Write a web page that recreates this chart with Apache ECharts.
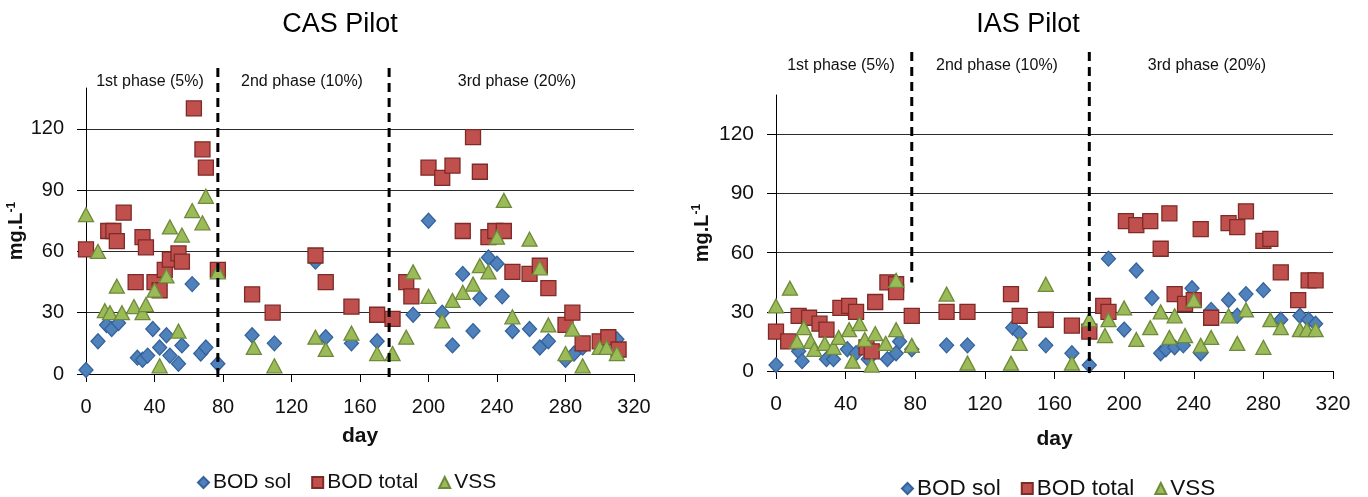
<!DOCTYPE html>
<html>
<head>
<meta charset="utf-8">
<script src="https://cdn.jsdelivr.net/npm/echarts@6/dist/echarts.min.js"></script>
<style>
html,body{margin:0;padding:0;background:#fff;}
#chart{width:1368px;height:497px;}
</style>
</head>
<body>
<div id="chart"></div>
<script>
// ---- Data: [day, mg/L] ----
const xTicks = [0, 40, 80, 120, 160, 200, 240, 280, 320];
const yTicks = [0, 30, 60, 90, 120];
const seriesNames = ['BOD sol', 'BOD total', 'VSS'];

const casBodSol = [[0,2],[7,16],[12,24],[15,22],[19,25],[30,8],[33,7],[36,9],[39,22],[43,13],[47,19],[49,9],[54,5],[56,14],[62,44],[67,10],[70,13],[77,5],[97,19],[110,15],[134,55],[140,18],[155,15],[170,16],[191,29],[200,75],[208,30],[214,14],[220,49],[226,21],[230,37],[235,57],[240,54],[243,38],[249,21],[259,22],[265,13],[270,16],[280,7],[285,10],[290,13],[310,17]];
const casBodTotal = [[0,61],[13,70],[16,70],[18,65],[22,79],[29,45],[33,67],[35,62],[40,45],[43,41],[46,51],[49,56],[54,59],[56,55],[63,130],[68,110],[70,101],[77,51],[97,39],[109,30],[134,58],[140,45],[155,33],[170,29],[179,27],[187,45],[190,38],[200,101],[208,96],[214,102],[220,70],[226,116],[230,99],[235,67],[239,70],[244,70],[249,50],[259,49],[265,53],[270,42],[280,24],[284,30],[290,15],[300,16],[305,18],[311,12]];
const casVss = [[0,78],[7,60],[11,31],[14,30],[18,43],[21,30],[28,33],[33,30],[35,34],[40,41],[43,4],[47,48],[49,72],[54,21],[56,68],[62,80],[68,74],[70,87],[77,50],[98,13],[110,4],[134,18],[140,12],[155,20],[170,10],[179,10],[187,18],[191,50],[200,38],[208,26],[214,36],[220,40],[226,44],[230,53],[235,50],[240,67],[244,85],[249,28],[259,66],[265,52],[270,24],[280,10],[284,22],[290,4],[300,13],[304,13],[310,10]];

const iasBodSol = [[0,3],[13,10],[15,5],[29,6],[33,6],[41,11],[46,9],[53,6],[64,6],[69,9],[71,15],[78,11],[98,13],[110,13],[136,22],[140,19],[155,13],[170,9],[180,3],[191,57],[200,21],[207,51],[216,37],[221,9],[224,11],[229,12],[234,13],[239,42],[244,9],[250,31],[260,36],[265,28],[270,39],[280,41],[290,26],[301,28],[306,26],[310,24]];
const iasBodTotal = [[0,20],[7,15],[13,28],[19,27],[25,24],[29,21],[37,32],[42,33],[46,30],[52,12],[55,10],[57,35],[64,45],[69,44],[69,40],[78,28],[98,30],[110,30],[135,39],[140,28],[155,26],[170,23],[180,20],[188,33],[191,30],[201,76],[207,74],[215,76],[221,62],[226,80],[229,39],[235,34],[240,36],[244,72],[250,27],[260,75],[265,73],[270,81],[280,66],[284,67],[290,50],[300,36],[306,46],[310,46]];
const iasVss = [[0,33],[8,42],[12,15],[16,22],[20,15],[22,11],[28,14],[33,12],[36,17],[42,21],[44,5],[48,24],[51,16],[55,3],[57,19],[63,14],[69,21],[69,46],[78,13],[98,39],[110,4],[135,4],[140,14],[155,44],[170,4],[180,26],[189,18],[191,26],[200,32],[207,16],[215,22],[221,30],[226,17],[229,28],[235,18],[240,36],[244,13],[250,17],[260,28],[265,14],[270,31],[280,12],[284,26],[290,22],[301,21],[305,21],[310,21]];

// phase boundaries (day) and the lowest value each dashed line reaches
const casPhaseDays = [77, 177];
const casPhaseBottom = [-2, -2];
const iasPhaseDays = [78, 180];
const iasPhaseBottom = [45, -1];
const phaseLabels = ['1st phase (5%)', '2nd phase (10%)', '3rd phase (20%)'];

// ---- Chart ----
const FONT = 'Liberation Sans, Arial, sans-serif';
const COLORS = {
  'BOD sol':   {fill:'#4F81BD', border:'#35629A', symbol:'diamond', size:[14,15]},
  'BOD total': {fill:'#C0504D', border:'#7E2A27', symbol:'rect',    size:[15,15]},
  'VSS':       {fill:'#9BBB59', border:'#6E8A3A', symbol:'triangle',size:[15,14]}
};

function scatter(name, data, gi) {
  const c = COLORS[name];
  return {
    type:'scatter', name, data, xAxisIndex:gi, yAxisIndex:gi,
    symbol:c.symbol, symbolSize:c.size,
    itemStyle:{color:c.fill, borderColor:c.border, borderWidth:1.3, opacity:1},
    emphasis:{disabled:true}
  };
}
function phaseLines(days, bottoms, top, gi) {
  return days.map((d,i)=>({
    type:'line', xAxisIndex:gi, yAxisIndex:gi, silent:true,
    data:[[d, top],[d, bottoms[i]]], symbol:'none',
    lineStyle:{color:'#000', width:3, type:[9,6]}
  }));
}
function xAxisMain(gi, fs, margin, nameGap) {
  return {
    type:'value', gridIndex:gi, min:xTicks[0], max:xTicks[xTicks.length-1], interval:xTicks[1]-xTicks[0],
    axisLine:{show:true, lineStyle:{color:'#000', width:1}},
    axisTick:{show:true, inside:false, length:8, lineStyle:{color:'#000'}},
    axisLabel:{fontSize:fs, color:'#111', fontFamily:FONT, margin:margin},
    splitLine:{show:false},
    name:'day', nameLocation:'middle', nameGap:nameGap,
    nameTextStyle:{fontSize:21, fontWeight:'bold', color:'#111', fontFamily:FONT}
  };
}
function yAxisMain(gi, fs, nameGap) {
  const gridColor = '#2b2b2b';
  return {
    type:'value', gridIndex:gi, min:0, max:140, interval:30,
    axisLine:{show:true, lineStyle:{color:'#000', width:1}},
    axisTick:{show:true, inside:false, length:9, customValues:yTicks, lineStyle:{color:'#000'}},
    axisLabel:{fontSize:fs, color:'#111', fontFamily:FONT, margin:22, customValues:yTicks,
               formatter:v=> yTicks.indexOf(v)>=0 ? String(v) : ''},
    splitLine:{show:true, lineStyle:{width:1.2, color:[gridColor,gridColor,gridColor,gridColor,gridColor,'rgba(0,0,0,0)']}},
    name:'{a|mg.L}{b|-1}', nameLocation:'middle', nameGap:nameGap,
    nameTextStyle:{rich:{
      a:{fontSize:20, fontWeight:'bold', color:'#111', fontFamily:FONT},
      b:{fontSize:12, fontWeight:'bold', color:'#111', fontFamily:FONT, padding:[0,0,10,0]}
    }}
  };
}
function hiddenX(gi){ return {type:'value', gridIndex:gi, min:xTicks[0], max:xTicks[xTicks.length-1], show:false}; }
function hiddenY(gi,min,max){ return {type:'value', gridIndex:gi, min, max, show:false}; }

const chart = echarts.init(document.getElementById('chart'), null, {renderer:'canvas'});

function legendFor(left, top, fs) {
  return {
    left, top, itemGap:20, itemWidth:11, itemHeight:11,
    data: seriesNames.map(n=>({name:n, icon:COLORS[n].symbol})),
    textStyle:{fontSize:fs, color:'#111', fontFamily:FONT, padding:[0,0,0,-1]},
    selectedMode:false
  };
}
function txt(text, x, y, size, color) {
  return {type:'text', x, y, silent:true,
    style:{text, fill:color||'#111', font: size+'px '+FONT, textAlign:'center', textVerticalAlign:'middle'}};
}

const option = {
  animation:false,
  backgroundColor:'#fff',
  grid:[
    {left:86, top:88, width:548, height:286},
    {left:776, top:95, width:557, height:276},
    {left:86, top:68, width:548, height:310},
    {left:776, top:52, width:557, height:321}
  ],
  xAxis:[ xAxisMain(0, 20, 23, 52), xAxisMain(1, 21, 23, 58), hiddenX(2), hiddenX(3) ],
  yAxis:[ yAxisMain(0, 20, 48), yAxisMain(1, 21, 63), hiddenY(2,-2,150), hiddenY(3,-1,162) ],
  legend:[ legendFor(192, 467, 21), legendFor(896, 472, 22.5) ],
  graphic:[
    txt('CAS Pilot', 340, 25, 27, '#000'),
    txt('IAS Pilot', 1028, 25, 27, '#000'),
    txt(phaseLabels[0], 150, 82, 16), txt(phaseLabels[1], 302, 82, 16), txt(phaseLabels[2], 517, 82, 16),
    txt(phaseLabels[0], 841, 66, 16), txt(phaseLabels[1], 997, 66, 16), txt(phaseLabels[2], 1207, 66, 16)
  ],
  series:[
    ...phaseLines(casPhaseDays, casPhaseBottom, 150, 2),
    ...phaseLines(iasPhaseDays, iasPhaseBottom, 162, 3),
    scatter('BOD sol', casBodSol, 0),
    scatter('BOD total', casBodTotal, 0),
    scatter('VSS', casVss, 0),
    scatter('BOD sol', iasBodSol, 1),
    scatter('BOD total', iasBodTotal, 1),
    scatter('VSS', iasVss, 1)
  ]
};
chart.setOption(option);
</script>
</body>
</html>
